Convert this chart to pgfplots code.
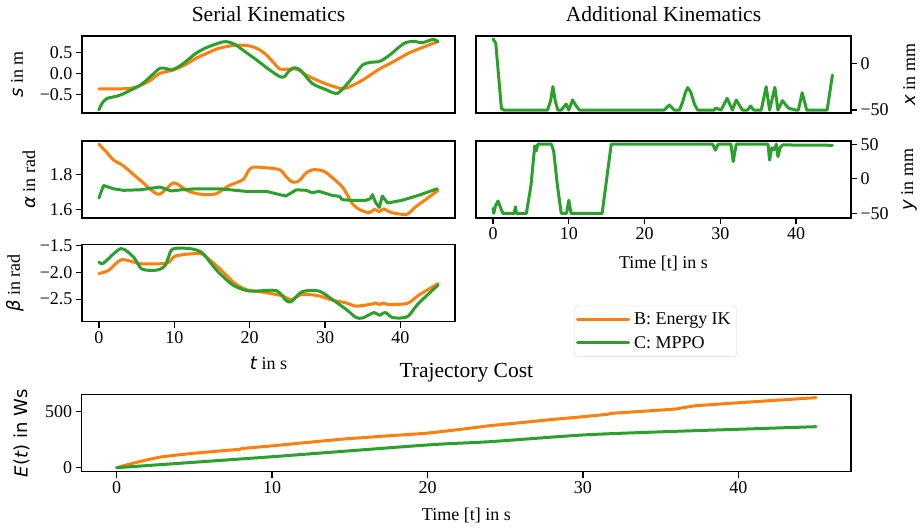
\documentclass[border=0pt]{standalone}
\usepackage{fontspec}
\setmainfont{Liberation Serif}
\newfontfamily\dvs{DejaVu Sans}
\usepackage{pgfplots}
\usepackage{pgfplotstable}
\pgfplotsset{compat=1.18}
\definecolor{cOr}{HTML}{FF7F0E}
\definecolor{cGr}{HTML}{2CA02C}
\newcommand\fs{\fontsize{18}{21}\selectfont}
\newcommand\fst{\fontsize{21.5}{25}\selectfont}

\pgfplotstableread{
t s
0 -0.37
2 -0.37
4.1 -0.36
5.5 -0.29
6.8 -0.17
8.1 0.0
9.9 0.08
11.4 0.2
12.9 0.36
14.5 0.49
16.0 0.6
18.2 0.67
20.0 0.65
21.2 0.57
22.2 0.44
23.2 0.25
24.0 0.1
25.0 0.1
26.2 0.1
27.0 0.02
27.9 -0.08
30.1 -0.25
32.3 -0.37
33.5 -0.3
35.0 -0.16
37.2 0.1
38.9 0.26
41.1 0.48
43.0 0.62
44.9 0.75
}\sOr
\pgfplotstableread{
t s
0 -0.87
0.4 -0.72
1.05 -0.6
2.8 -0.52
5.5 -0.28
7.0 -0.05
8.1 0.12
9.0 0.11
9.6 0.08
10.7 0.17
12.0 0.35
12.9 0.48
14.0 0.59
15.1 0.67
16.5 0.75
17.3 0.74
18.2 0.67
19.5 0.5
20.9 0.32
22.5 0.1
24.0 -0.08
24.6 -0.08
25.2 0.05
25.9 0.13
26.7 0.08
28.3 -0.24
30.0 -0.38
31.6 -0.48
32.8 -0.28
34.0 -0.02
35.0 0.2
36.0 0.26
37.2 0.28
38.0 0.36
38.9 0.48
39.8 0.62
40.7 0.73
41.8 0.76
42.9 0.73
44.4 0.81
45 0.75
}\sGr
\pgfplotstableread{
t a
0 1.975
1.0 1.93
1.93 1.884
3.25 1.85
5.5 1.766
7.9 1.686
9.9 1.752
11.6 1.709
13.0 1.69
14.3 1.684
15.6 1.69
17.3 1.737
19.1 1.77
19.8 1.82
20.4 1.842
22.0 1.84
24.0 1.827
25.0 1.78
25.7 1.756
26.4 1.76
26.8 1.775
27.5 1.81
28.3 1.827
29.3 1.826
30.1 1.813
31.3 1.77
32.3 1.728
33.0 1.68
33.6 1.633
34.5 1.6
35.8 1.579
36.5 1.598
37.0 1.59
37.2 1.585
37.8 1.602
38.5 1.585
39.4 1.575
40.9 1.571
42.0 1.613
43.5 1.66
45 1.709
}\aOr
\pgfplotstableread{
t a
0 1.665
0.6 1.737
1.9 1.718
3.25 1.709
5.5 1.712
8.1 1.728
9.6 1.705
10.9 1.712
12.9 1.718
16.0 1.718
19.5 1.703
22.2 1.703
24.0 1.684
24.8 1.676
26.2 1.712
27.5 1.709
28.3 1.695
29.2 1.703
31.0 1.679
31.9 1.674
32.3 1.655
33.6 1.651
35.4 1.651
36.0 1.66
36.3 1.684
36.7 1.64
37.2 1.61
37.6 1.676
38.3 1.636
40.2 1.651
42.4 1.68
44.9 1.718
}\aGr
\pgfplotstableread{
t b
0 -2.024
1.3 -1.963
3.0 -1.765
5.5 -1.84
9.0 -1.83
10.1 -1.70
12.5 -1.654
13.8 -1.67
16.0 -1.93
17.8 -2.18
19.5 -2.32
22.2 -2.38
24.4 -2.44
25.5 -2.51
27.0 -2.41
29.2 -2.44
31.0 -2.52
32.8 -2.57
34.1 -2.63
36.3 -2.59
36.7 -2.57
37.2 -2.60
37.8 -2.57
38.3 -2.60
40.9 -2.58
42.4 -2.43
45 -2.21
}\bOr
\pgfplotstableread{
t b
0 -1.81
0.6 -1.83
2.9 -1.56
4.6 -1.72
5.7 -1.94
7.7 -1.96
8.8 -1.87
9.6 -1.59
10.7 -1.55
12.5 -1.57
13.8 -1.65
15.6 -1.96
17.8 -2.24
20.0 -2.35
23.5 -2.34
24.8 -2.52
25.5 -2.55
27.0 -2.36
29.2 -2.35
31.0 -2.51
32.8 -2.69
34.1 -2.84
35.0 -2.85
36.5 -2.75
37.2 -2.80
38.0 -2.75
38.9 -2.84
40.2 -2.85
41.1 -2.81
42.4 -2.58
45 -2.24
}\bGr
\pgfplotstableread{
t x
0 26
0.36 21.4
1.1 -48.2
1.4 -50
7.2 -50
7.6 -40
7.9 -25
8.2 -40
8.55 -50
9.0 -50
9.65 -43.6
10.0 -50
10.5 -39.3
11.0 -46
11.4 -50
22.6 -50
23.25 -44.6
23.9 -50
24.6 -50
25.0 -42
25.4 -31
25.7 -26
26.1 -31
26.6 -44
27.0 -50
29.2 -50
29.4 -48
30.1 -50
30.9 -37.5
31.6 -50
32.1 -39.3
32.9 -50
33.6 -50
34.0 -45.7
34.4 -50
35.4 -50
36.05 -25
36.5 -50
37.2 -25.7
37.6 -50
38.2 -40
39.0 -48
39.9 -50
40.3 -50
40.8 -31.5
41.4 -50
44.1 -50
44.8 -12.5
}\xGr
\pgfplotstableread{
t y
0 -42.9
0.1 -50
0.3 -40
0.66 -32
1.0 -42
1.3 -50
2.8 -50
2.95 -40.5
3.1 -50
4.4 -50
5.0 -10
5.5 47.6
5.7 40.4
5.9 50
7.7 50
8.0 40
8.5 -10
9.0 -50
9.7 -50
10.0 -31
10.3 -50
14.4 -50
15.0 0
15.6 50
29.0 50
29.35 41.4
29.7 50
31.4 50
31.7 25
32.1 50
36.3 50
36.5 27
36.8 45
37.1 42
37.4 50
37.6 32
37.9 45
38.2 49
44.8 48.5
}\yGr
\pgfplotstableread{
t e
0 0
0.5 20
1.0 38
1.5 55
2 72
2.8 95
4 115
4.9 128
6.5 148
7.9 164
8.1 172
10.1 196
12 222
14.6 256
17 280
19.9 307
22 340
24 375
25.5 395
27.7 426
30 455
31.6 477
31.8 485
34 505
36 524
36.2 530
37.3 554
40.5 584
42 598
45 625
}\eOr
\pgfplotstableread{
t e
0 0
10 98
20 203
24 232
30 292
35 320
40 343
45 366
}\eGr

\pgfplotsset{
 base/.style={
  scale only axis, width=373pt, height=77pt,
  xmin=-2.25, xmax=47.25,
  axis line style={line width=1.2pt},
  every tick/.style={line width=1.2pt, black},
  major tick length=6pt,
  tick align=outside,
  xtick pos=left,
  tick label style={font=\fs},
  label style={font=\fs},
  title style={font=\fst, at={(axis description cs:0.5,1.2)}, anchor=center},
  xtick={0,10,20,30,40},
  xticklabels={0,10,20,30,40},
  every axis plot/.append style={line width=3pt, no marks, line join=round, line cap=round},
 },
 leftax/.style={base, ytick pos=left},
 rightax/.style={base, width=375pt, ytick pos=right, yticklabel pos=right,
   every axis y label/.append style={at={(axis description cs:1.155,0.5)}, anchor=center}},
 sm/.style={smooth, tension=0.45},
}

\begin{document}
\begin{tikzpicture}
\path[use as bounding box] (0pt,0pt) rectangle (923pt,-529pt);

% s
\begin{axis}[leftax, at={(82pt,-113pt)}, anchor=south west,
  ymin=-0.945, ymax=0.888, xtick=\empty,
  ytick={-0.5,0,0.5}, yticklabels={−0.5,0.0,0.5},
  title={Serial Kinematics},
  ylabel={{\dvs\itshape s} in m},
  every axis y label/.append style={at={(axis description cs:-0.174,0.5)}, anchor=center}]
\addplot[cOr, sm] table[x=t,y=s]{\sOr};
\addplot[cGr, sm] table[x=t,y=s]{\sGr};
\end{axis}

% alpha
\begin{axis}[leftax, at={(82pt,-218pt)}, anchor=south west,
  ymin=1.549, ymax=1.994, xtick=\empty,
  ytick={1.6,1.8}, yticklabels={1.6,1.8},
  ylabel={{\dvs\itshape α} in rad},
  every axis y label/.append style={at={(axis description cs:-0.142,0.5)}, anchor=center}]
\addplot[cOr, sm] table[x=t,y=a]{\aOr};
\addplot[cGr] table[x=t,y=a]{\aGr};
\end{axis}

% beta
\begin{axis}[leftax, at={(82pt,-321.7pt)}, anchor=south west,
  ymin=-2.92, ymax=-1.487,
  ytick={-2.5,-2,-1.5}, yticklabels={−2.5,−2.0,−1.5},
  ylabel={{\dvs\itshape β} in rad},
  xlabel={{\dvs\itshape t} in s},
  every axis y label/.append style={at={(axis description cs:-0.18,0.5)}, anchor=center},
  every axis x label/.append style={at={(axis description cs:0.5,-0.546)}, anchor=center}]
\addplot[cOr, sm] table[x=t,y=b]{\bOr};
\addplot[cGr, sm] table[x=t,y=b]{\bGr};
\end{axis}

% x mm
\begin{axis}[rightax, at={(476pt,-113pt)}, anchor=south west,
  ymin=-53.2, ymax=29.2, xtick=\empty,
  ytick={-50,0}, yticklabels={−50,0},
  title={Additional Kinematics},
  ylabel={{\dvs\itshape x} in mm}]
\addplot[cGr] table[x=t,y=x]{\xGr};
\end{axis}

% y mm
\begin{axis}[rightax, at={(476pt,-218pt)}, anchor=south west,
  ymin=-56.7, ymax=54.7,
  ytick={-50,0,50}, yticklabels={−50,0,50},
  ylabel={{\dvs\itshape y} in mm},
  xlabel={Time [t] in s},
  every axis x label/.append style={at={(axis description cs:0.5,-0.59)}, anchor=center},
  legend style={at={(0.261,-1.14)}, anchor=north west, draw=black!15, rounded corners=4pt,
    font=\fs, row sep=6pt, inner xsep=2pt, inner ysep=5pt,
    nodes={inner xsep=4pt}},
  legend cell align=left,
  legend image code/.code={\draw[#1, line width=3pt] (0pt,0pt) -- (40pt,0pt); \path (0pt,0pt) -- (51pt,0pt);}]
\addlegendimage{cOr, line width=3pt}
\addlegendentry{B: Energy IK}
\addplot[cGr] table[x=t,y=y]{\yGr};
\addlegendentry{C: MPPO}
\end{axis}

% cost
\begin{axis}[leftax, width=769.3pt, at={(81.7pt,-471.7pt)}, anchor=south west,
  height=77.4pt,
  ymin=-35.7, ymax=655,
  ytick={0,500}, yticklabels={0,500},
  title={Trajectory Cost},
  title style={at={(axis description cs:0.5,1.198)}},
  ylabel={{\dvs\itshape E}{\dvs(\itshape t\/\upshape) in Ws}},
  xlabel={Time [t] in s},
  every axis y label/.append style={at={(axis description cs:-0.0776,0.5)}, anchor=center},
  every axis x label/.append style={at={(axis description cs:0.5,-0.559)}, anchor=center}]
\addplot[cOr] table[x=t,y=e]{\eOr};
\addplot[cGr, sm] table[x=t,y=e]{\eGr};
\end{axis}
\end{tikzpicture}
\end{document}
